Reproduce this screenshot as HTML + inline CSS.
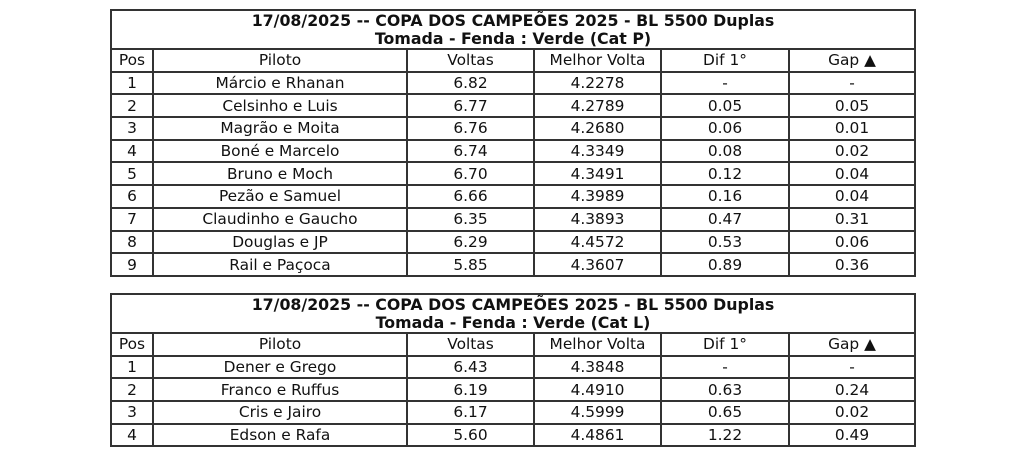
<!DOCTYPE html>
<html><head><meta charset="utf-8"><style>
body{margin:0;width:1024px;height:459px;background:#fff;font-family:"DejaVu Sans","Liberation Sans",sans-serif;font-size:15.4px;color:#111;}
table{position:absolute;left:110px;width:804px;border-collapse:collapse;table-layout:fixed;}
td{border:2px solid #333;text-align:center;padding:0;height:20.7px;line-height:20px;white-space:nowrap;overflow:hidden;}
td.t{font-weight:bold;font-size:15.8px;line-height:18px;height:37px;}
</style></head><body>
<table style="top:9px">
<colgroup><col style="width:42px"><col style="width:254px"><col style="width:127px"><col style="width:127px"><col style="width:128px"><col style="width:126px"></colgroup>
<tr><td class="t" colspan="6">17/08/2025 -- COPA DOS CAMPEÕES 2025 - BL 5500 Duplas<br>Tomada - Fenda : Verde (Cat P)</td></tr>
<tr><td>Pos</td><td>Piloto</td><td>Voltas</td><td>Melhor Volta</td><td>Dif 1°</td><td>Gap ▲</td></tr>
<tr><td>1</td><td>Márcio e Rhanan</td><td>6.82</td><td>4.2278</td><td>-</td><td>-</td></tr>
<tr><td>2</td><td>Celsinho e Luis</td><td>6.77</td><td>4.2789</td><td>0.05</td><td>0.05</td></tr>
<tr><td>3</td><td>Magrão e Moita</td><td>6.76</td><td>4.2680</td><td>0.06</td><td>0.01</td></tr>
<tr><td>4</td><td>Boné e Marcelo</td><td>6.74</td><td>4.3349</td><td>0.08</td><td>0.02</td></tr>
<tr><td>5</td><td>Bruno e Moch</td><td>6.70</td><td>4.3491</td><td>0.12</td><td>0.04</td></tr>
<tr><td>6</td><td>Pezão e Samuel</td><td>6.66</td><td>4.3989</td><td>0.16</td><td>0.04</td></tr>
<tr><td>7</td><td>Claudinho e Gaucho</td><td>6.35</td><td>4.3893</td><td>0.47</td><td>0.31</td></tr>
<tr><td>8</td><td>Douglas e JP</td><td>6.29</td><td>4.4572</td><td>0.53</td><td>0.06</td></tr>
<tr><td>9</td><td>Rail e Paçoca</td><td>5.85</td><td>4.3607</td><td>0.89</td><td>0.36</td></tr>
</table>
<table style="top:293px">
<colgroup><col style="width:42px"><col style="width:254px"><col style="width:127px"><col style="width:127px"><col style="width:128px"><col style="width:126px"></colgroup>
<tr><td class="t" colspan="6">17/08/2025 -- COPA DOS CAMPEÕES 2025 - BL 5500 Duplas<br>Tomada - Fenda : Verde (Cat L)</td></tr>
<tr><td>Pos</td><td>Piloto</td><td>Voltas</td><td>Melhor Volta</td><td>Dif 1°</td><td>Gap ▲</td></tr>
<tr><td>1</td><td>Dener e Grego</td><td>6.43</td><td>4.3848</td><td>-</td><td>-</td></tr>
<tr><td>2</td><td>Franco e Ruffus</td><td>6.19</td><td>4.4910</td><td>0.63</td><td>0.24</td></tr>
<tr><td>3</td><td>Cris e Jairo</td><td>6.17</td><td>4.5999</td><td>0.65</td><td>0.02</td></tr>
<tr><td>4</td><td>Edson e Rafa</td><td>5.60</td><td>4.4861</td><td>1.22</td><td>0.49</td></tr>
</table>
</body></html>
